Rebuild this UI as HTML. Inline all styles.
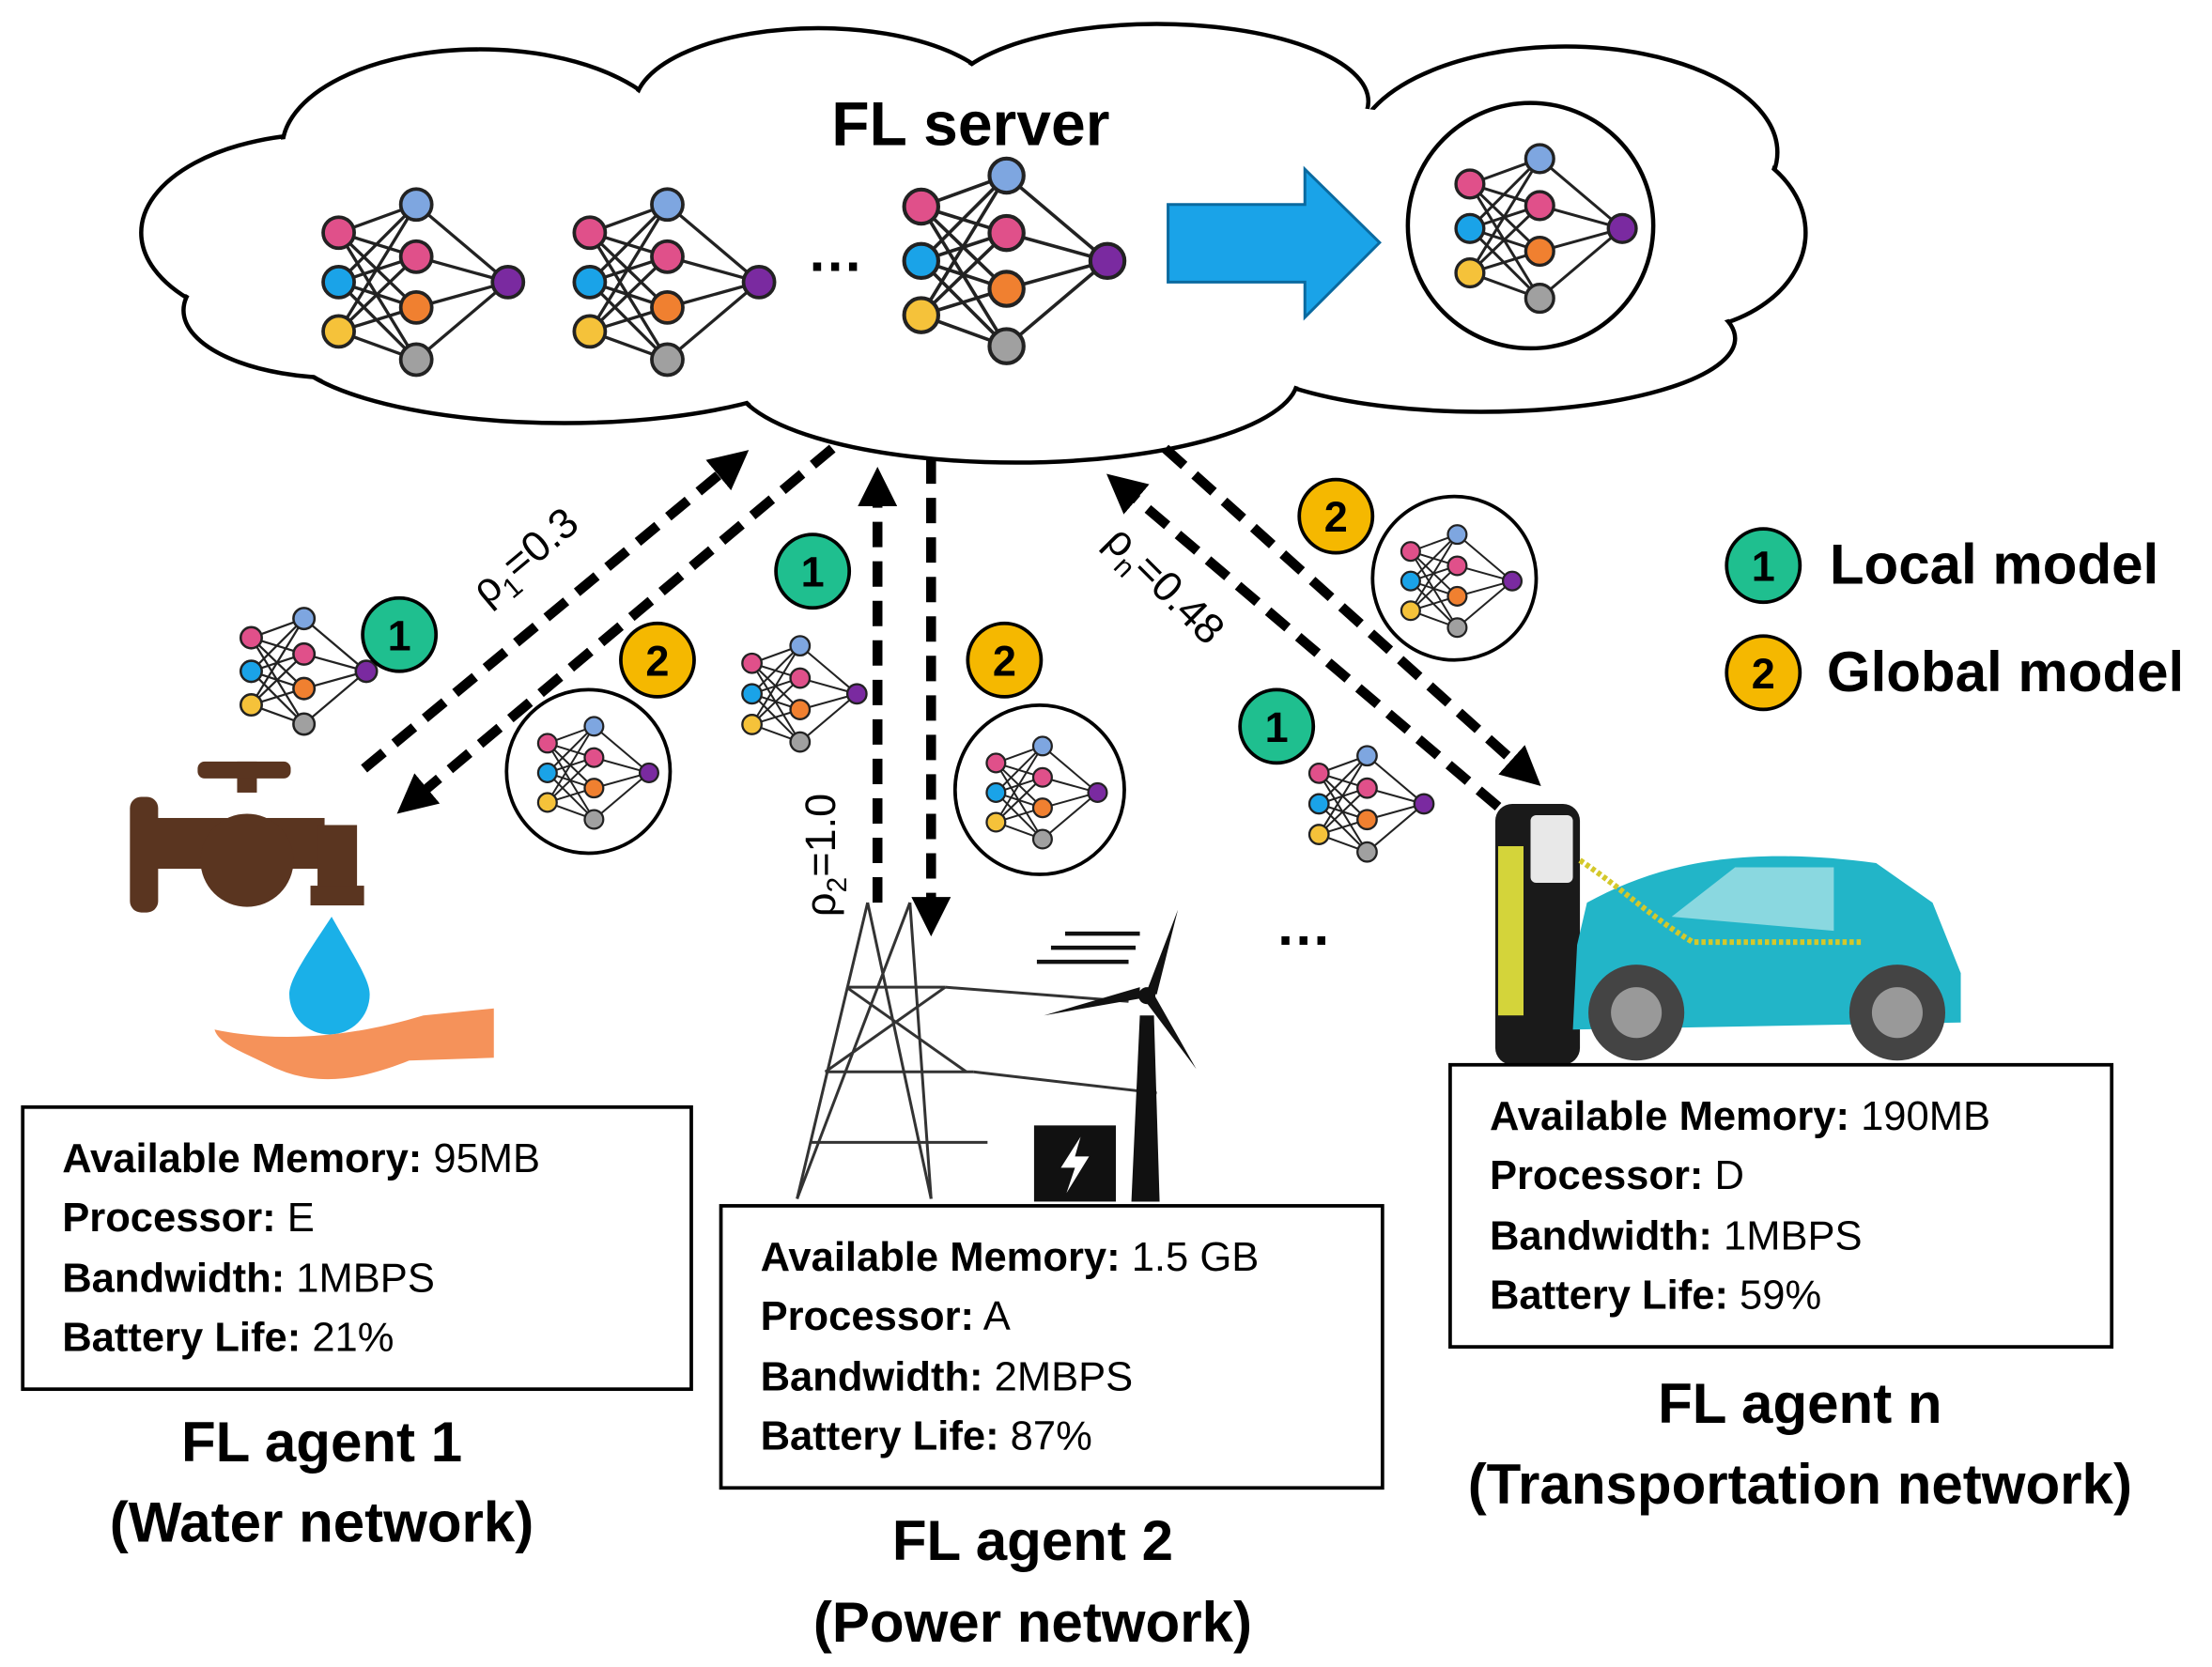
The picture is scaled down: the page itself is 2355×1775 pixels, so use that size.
<!DOCTYPE html>
<html><head><meta charset="utf-8"><style>
html,body{margin:0;padding:0;background:#fff}
svg{display:block}
text{font-family:"Liberation Sans",sans-serif}
.b{font-weight:bold}
</style></head><body>
<svg width="2355" height="1775" viewBox="0 0 1568 1182" xmlns="http://www.w3.org/2000/svg">
<defs>
<g id="net">
<g stroke="#222" stroke-width="2.2">
<line x1="0" y1="-35" x2="55" y2="-55"/><line x1="0" y1="-35" x2="55" y2="-18"/><line x1="0" y1="-35" x2="55" y2="18"/><line x1="0" y1="-35" x2="55" y2="55"/>
<line x1="0" y1="0" x2="55" y2="-55"/><line x1="0" y1="0" x2="55" y2="-18"/><line x1="0" y1="0" x2="55" y2="18"/><line x1="0" y1="0" x2="55" y2="55"/>
<line x1="0" y1="35" x2="55" y2="-55"/><line x1="0" y1="35" x2="55" y2="-18"/><line x1="0" y1="35" x2="55" y2="18"/><line x1="0" y1="35" x2="55" y2="55"/>
<line x1="55" y1="-55" x2="120" y2="0"/><line x1="55" y1="-18" x2="120" y2="0"/><line x1="55" y1="18" x2="120" y2="0"/><line x1="55" y1="55" x2="120" y2="0"/>
</g>
<g stroke="#222" stroke-width="2.5">
<circle cx="0" cy="-35" r="11" fill="#e0508a"/><circle cx="0" cy="0" r="11" fill="#1aa3e8"/><circle cx="0" cy="35" r="11" fill="#f5c23a"/>
<circle cx="55" cy="-55" r="11" fill="#7ea6e0"/><circle cx="55" cy="-18" r="11" fill="#e0508a"/><circle cx="55" cy="18" r="11" fill="#f08030"/><circle cx="55" cy="55" r="11" fill="#a0a0a0"/>
<circle cx="120" cy="0" r="11" fill="#7a2aa0"/>
</g>
</g>
<marker id="ah" markerWidth="4" markerHeight="4" refX="2" refY="2" orient="auto" markerUnits="strokeWidth"><path d="M0,0 L4,2 L0,4 z" fill="#000"/></marker>
</defs>

<!-- cloud -->
<g stroke="#000" stroke-width="3" fill="#fff">
<ellipse cx="230" cy="165" rx="130" ry="70"/><ellipse cx="340" cy="105" rx="140" ry="70"/><ellipse cx="580" cy="75" rx="130" ry="55"/>
<ellipse cx="820" cy="72" rx="150" ry="55"/><ellipse cx="1110" cy="108" rx="150" ry="75"/><ellipse cx="1185" cy="165" rx="95" ry="70"/>
<ellipse cx="1050" cy="240" rx="180" ry="52"/><ellipse cx="720" cy="268" rx="200" ry="60"/><ellipse cx="400" cy="240" rx="200" ry="60"/><ellipse cx="240" cy="220" rx="110" ry="48"/>
</g>
<g fill="#fff">
<ellipse cx="230" cy="165" rx="128" ry="68"/><ellipse cx="340" cy="105" rx="138" ry="68"/><ellipse cx="580" cy="75" rx="128" ry="53"/>
<ellipse cx="820" cy="72" rx="148" ry="53"/><ellipse cx="1110" cy="108" rx="148" ry="73"/><ellipse cx="1185" cy="165" rx="93" ry="68"/>
<ellipse cx="1050" cy="240" rx="178" ry="50"/><ellipse cx="720" cy="268" rx="198" ry="58"/><ellipse cx="400" cy="240" rx="198" ry="58"/><ellipse cx="240" cy="220" rx="108" ry="46"/>
<ellipse cx="690" cy="170" rx="520" ry="110"/>
</g>
<text x="688" y="103" font-size="44" class="b" text-anchor="middle">FL server</text>
<use href="#net" transform="translate(240,200)"/>
<use href="#net" transform="translate(418,200)"/>
<use href="#net" transform="translate(653,185) scale(1.1)"/>
<text x="592" y="192" font-size="40" class="b" text-anchor="middle">…</text>
<polygon points="828,145 925,145 925,120 978,172 925,225 925,200 828,200" fill="#1aa3e8" stroke="#0a6aa0" stroke-width="2"/>
<circle cx="1085" cy="160" r="87" fill="#fff" stroke="#000" stroke-width="3"/>
<use href="#net" transform="translate(1042,162) scale(0.9)"/>

<!-- arrows -->
<g stroke="#000" stroke-width="7" stroke-dasharray="18 10" fill="none" marker-end="url(#ah)">
<line x1="258" y1="545" x2="520" y2="328"/>
<line x1="590" y1="318" x2="292" y2="568"/>
<line x1="622" y1="640" x2="622" y2="345"/>
<line x1="660" y1="325" x2="660" y2="650"/>
<line x1="826" y1="318" x2="1082" y2="548"/>
<line x1="1062" y1="572" x2="795" y2="345"/>
</g>
<text transform="translate(345,430) rotate(-40)" font-size="30">ρ<tspan font-size="20" dy="8">1</tspan><tspan dy="-8">=0.3</tspan></text>
<text transform="translate(592,650) rotate(-90)" font-size="30">ρ<tspan font-size="20" dy="8">2</tspan><tspan dy="-8">=1.0</tspan></text>
<text transform="translate(782,385) rotate(45)" font-size="30">ρ<tspan font-size="20" dy="8">n</tspan><tspan dy="-8">=0.48</tspan></text>

<!-- small nets -->
<use href="#net" transform="translate(178,476) scale(0.68)"/>
<circle cx="417" cy="547" r="58" fill="#fff" stroke="#000" stroke-width="2.5"/>
<use href="#net" transform="translate(388,548) scale(0.6)"/>
<use href="#net" transform="translate(533,492) scale(0.62)"/>
<circle cx="737" cy="560" r="60" fill="#fff" stroke="#000" stroke-width="2.5"/>
<use href="#net" transform="translate(706,562) scale(0.6)"/>
<circle cx="1031" cy="410" r="58" fill="#fff" stroke="#000" stroke-width="2.5"/>
<use href="#net" transform="translate(1000,412) scale(0.6)"/>
<use href="#net" transform="translate(935,570) scale(0.62)"/>
<text x="924" y="670" font-size="40" class="b" text-anchor="middle">…</text>

<!-- badges -->
<g stroke="#000" stroke-width="2.5">
<circle cx="283" cy="450" r="26" fill="#1fbf8f"/><circle cx="466" cy="468" r="26" fill="#f5b800"/><circle cx="576" cy="405" r="26" fill="#1fbf8f"/><circle cx="712" cy="468" r="26" fill="#f5b800"/><circle cx="947" cy="366" r="26" fill="#f5b800"/><circle cx="905" cy="515" r="26" fill="#1fbf8f"/><circle cx="1250" cy="401" r="26" fill="#1fbf8f"/><circle cx="1250" cy="477" r="26" fill="#f5b800"/>
</g>
<g font-size="30" class="b" text-anchor="middle">
<text x="283" y="461">1</text><text x="466" y="479">2</text><text x="576" y="416">1</text><text x="712" y="479">2</text><text x="947" y="377">2</text><text x="905" y="526">1</text><text x="1250" y="412">1</text><text x="1250" y="488">2</text>
</g>
<text x="1297" y="414" font-size="40" class="b">Local model</text>
<text x="1295" y="490" font-size="40" class="b">Global model</text>

<!-- faucet -->
<g fill="#5a3520">
<rect x="168" y="540" width="14" height="22"/><rect x="140" y="540" width="66" height="12" rx="5"/>
<rect x="92" y="565" width="20" height="82" rx="8"/><rect x="110" y="580" width="120" height="36"/>
<circle cx="175" cy="610" r="33"/><rect x="225" y="585" width="28" height="55"/><rect x="220" y="628" width="38" height="14"/>
</g>
<path d="M235,650 C215,680 205,695 205,705 A28,28 0 0 0 262,705 C262,695 252,680 235,650z" fill="#1ab0e8"/>
<path d="M152,730 C200,740 250,735 300,720 L350,715 L350,750 L290,752 C250,768 220,770 190,755 C170,745 155,740 152,730z" fill="#f5925a"/>

<!-- power tower & turbine -->
<g stroke="#333" stroke-width="2" fill="none">
<path d="M615,640 L565,850 M645,640 L660,850 M600,700 L670,700 M585,760 L690,760 M575,810 L700,810"/>
<path d="M615,640 L660,850 M645,640 L565,850 M600,700 L685,760 M670,700 L585,760"/>
<line x1="670" y1="700" x2="800" y2="710"/><line x1="690" y1="760" x2="820" y2="775"/>
</g>
<polygon points="808,720 818,720 822,852 802,852" fill="#111"/>
<path d="M812,705 L835,645 L820,705z M812,710 L848,758 L818,705z M808,708 L740,720 L808,700z" fill="#111"/>
<circle cx="813" cy="706" r="6" fill="#111"/>
<rect x="733" y="798" width="58" height="54" fill="#111"/>
<path d="M766,806 L752,828 L762,828 L756,846 L772,820 L762,820z" fill="#fff"/>
<g stroke="#111" stroke-width="3"><line x1="755" y1="662" x2="808" y2="662"/><line x1="745" y1="672" x2="805" y2="672"/><line x1="735" y1="682" x2="800" y2="682"/></g>

<!-- charger & car -->
<rect x="1060" y="570" width="60" height="185" rx="12" fill="#1a1a1a"/>
<rect x="1062" y="600" width="18" height="120" fill="#d4d43a"/>
<rect x="1085" y="578" width="30" height="48" rx="4" fill="#e8e8e8"/>
<path d="M1125,640 C1180,610 1240,600 1330,612 L1370,640 L1390,690 L1390,725 L1115,730 L1118,670z" fill="#22b5c8"/>
<path d="M1185,650 L1230,615 L1300,615 L1300,660z" fill="#8ad8e0"/>
<circle cx="1160" cy="718" r="34" fill="#444"/><circle cx="1160" cy="718" r="18" fill="#999"/>
<circle cx="1345" cy="718" r="34" fill="#444"/><circle cx="1345" cy="718" r="18" fill="#999"/>
<path d="M1120,610 C1150,630 1170,650 1200,668 L1320,668" stroke="#d4c82a" stroke-width="4" fill="none" stroke-dasharray="3 2"/>

<!-- boxes -->
<g fill="#fff" stroke="#000" stroke-width="2.5">
<rect x="16" y="785" width="474" height="200"/><rect x="511" y="855" width="469" height="200"/><rect x="1028" y="755" width="469" height="200"/>
</g>
<g font-size="29">
<text x="44" y="831"><tspan class="b">Available Memory:</tspan>  95MB</text>
<text x="44" y="873"><tspan class="b">Processor:</tspan> E</text>
<text x="44" y="916"><tspan class="b">Bandwidth:</tspan> 1MBPS</text>
<text x="44" y="958"><tspan class="b">Battery Life:</tspan> 21%</text>
<text x="539" y="901"><tspan class="b">Available Memory:</tspan>  1.5 GB</text>
<text x="539" y="943"><tspan class="b">Processor:</tspan> A</text>
<text x="539" y="986"><tspan class="b">Bandwidth:</tspan> 2MBPS</text>
<text x="539" y="1028"><tspan class="b">Battery Life:</tspan> 87%</text>
<text x="1056" y="801"><tspan class="b">Available Memory:</tspan>  190MB</text>
<text x="1056" y="843"><tspan class="b">Processor:</tspan> D</text>
<text x="1056" y="886"><tspan class="b">Bandwidth:</tspan> 1MBPS</text>
<text x="1056" y="928"><tspan class="b">Battery Life:</tspan> 59%</text>
</g>
<g font-size="40" class="b" text-anchor="middle">
<text x="228" y="1036">FL agent 1</text><text x="228" y="1093">(Water network)</text>
<text x="732" y="1106">FL agent 2</text><text x="732" y="1164">(Power network)</text>
<text x="1276" y="1009">FL agent n</text><text x="1276" y="1066">(Transportation network)</text>
</g>
</svg>
</body></html>
